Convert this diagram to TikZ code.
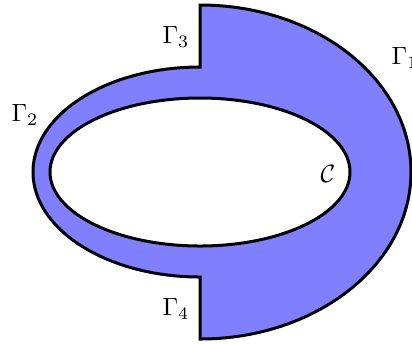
\documentclass[tikz,border=0pt]{standalone}
\begin{document}
\begin{tikzpicture}[x=0.4pt,y=0.4pt,
  bnd/.style={draw=black,line width=1.2pt,line join=miter},
  lbl/.style={inner sep=0pt}]
\useasboundingbox (-200,-171) rectangle (212,172);
\fill[blue!50,even odd rule]
  (0,167) arc[start angle=90,end angle=-90,x radius=211,y radius=167]
  -- (0,-105) arc[start angle=-90,end angle=-270,x radius=167,y radius=105]
  -- cycle
  (0,0) ellipse[x radius=150,y radius=74];
\draw[bnd]
  (0,167) arc[start angle=90,end angle=-90,x radius=211,y radius=167]
  -- (0,-105) arc[start angle=-90,end angle=-270,x radius=167,y radius=105]
  -- cycle;
\draw[bnd] (0,0) ellipse[x radius=150,y radius=74];
\node[lbl] (g1) at (205,114) {$\Gamma_1$};
\node[lbl] (g2) at (-175,57) {$\Gamma_2$};
\node[lbl] (g3) at (-24,135) {$\Gamma_3$};
\node[lbl] (g4) at (-24,-137) {$\Gamma_4$};
\node[lbl] (c) at (128,-2) {$\mathcal{C}$};
\end{tikzpicture}
\end{document}
